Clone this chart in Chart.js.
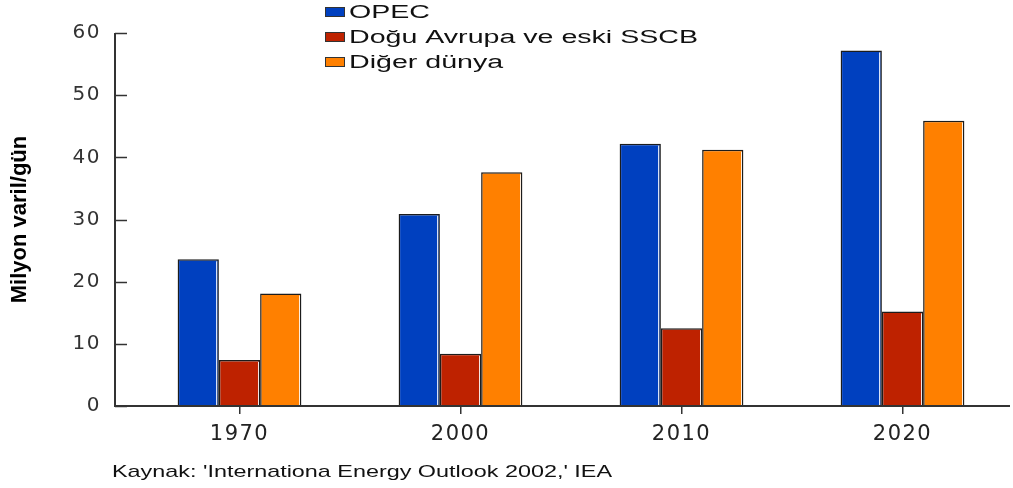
<!DOCTYPE html>
<html>
<head>
<meta charset="utf-8">
<script src="https://cdn.jsdelivr.net/npm/chart.js@4/dist/chart.umd.min.js"></script>
<style>
    html, body { margin: 0; padding: 0; background: #ffffff; }
    #box { width: 1013px; height: 488px; position: relative; }
</style>
</head>
<body>
<div id="box"><canvas id="oilChart"></canvas></div>
<script>
const years = ['1970', '2000', '2010', '2020'];
const opec = [23.6, 30.9, 42.2, 57.2];
const doguAvrupa = [7.4, 8.4, 12.5, 15.2];
const digerDunya = [18.1, 37.6, 41.2, 45.9];
const seriesNames = ['OPEC', 'Doğu Avrupa ve eski SSCB', 'Diğer dünya'];
const sourceText = "Kaynak: 'Internationa Energy Outlook 2002,' IEA";

const barColors = ['#0040bf', '#be2200', '#ff8000'];

// axis lines sit a bit left of the first category
const axisX = 115;

// stretched text, the original picture is wide
function stretchText(ctx, text, x, y, sx) {
    ctx.save();
    ctx.translate(x, y);
    ctx.scale(sx, 1);
    ctx.fillText(text, 0, 0);
    ctx.restore();
}

const extras = {
    id: 'extras',
    beforeDraw(chart) {
        chart.ctx.letterSpacing = '0px';
    },
    afterDatasetsDraw(chart) {
        const ctx = chart.ctx;
        const area = chart.chartArea;
        const yScale = chart.scales.y;
        ctx.save();
        // light edge on the right side of every bar
        ctx.strokeStyle = 'rgba(255,255,255,0.85)';
        ctx.lineWidth = 1;
        chart.getSortedVisibleDatasetMetas().forEach(meta => {
            meta.data.forEach(bar => {
                const p = bar.getProps(['x', 'y', 'base', 'width'], true);
                const xr = Math.round(p.x + p.width / 2 - 2.5) + 0.5;
                ctx.beginPath();
                ctx.moveTo(xr, p.y + 2);
                ctx.lineTo(xr, p.base - 1);
                ctx.stroke();
            });
        });
        // axis lines
        const y0 = yScale.getPixelForValue(0);
        ctx.strokeStyle = '#333333';
        ctx.lineWidth = 2;
        ctx.beginPath();
        ctx.moveTo(axisX, area.top);
        ctx.lineTo(axisX, y0);
        ctx.lineTo(1010, y0);
        ctx.stroke();
        // y ticks pointing into the plot
        ctx.lineWidth = 1.5;
        yScale.ticks.forEach(t => {
            const py = Math.round(yScale.getPixelForValue(t.value)) + 0.5;
            ctx.beginPath();
            ctx.moveTo(axisX, py);
            ctx.lineTo(axisX + 12, py);
            ctx.stroke();
        });
        ctx.restore();
        // tick labels come after this, spaced out
        ctx.letterSpacing = '1.5px';
    },
    afterDraw(chart) {
        const ctx = chart.ctx;
        ctx.save();
        ctx.letterSpacing = '0px';
        // legend
        ctx.font = '18px "Liberation Sans", Arial, sans-serif';
        ctx.textBaseline = 'middle';
        ctx.textAlign = 'left';
        const sx = 349 / ctx.measureText(seriesNames[1]).width;
        chart.data.datasets.forEach((ds, i) => {
            const cy = 12 + i * 25;
            ctx.fillStyle = ds.backgroundColor;
            ctx.fillRect(325, cy - 5, 20, 10);
            ctx.strokeStyle = '#333333';
            ctx.lineWidth = 1;
            ctx.strokeRect(325.5, cy - 4.5, 19, 9);
            ctx.fillStyle = '#111111';
            stretchText(ctx, ds.label, 349, cy + 1, sx);
        });
        // source line
        ctx.font = '17px "Liberation Sans", Arial, sans-serif';
        ctx.textBaseline = 'alphabetic';
        ctx.fillStyle = '#111111';
        const fx = 500 / ctx.measureText(sourceText).width;
        stretchText(ctx, sourceText, 112, 477, fx);
        ctx.restore();
    }
};

const data = {
    labels: years,
    datasets: [{
        label: seriesNames[0],
        data: opec,
        backgroundColor: barColors[0]
    }, {
        label: seriesNames[1],
        data: doguAvrupa,
        backgroundColor: barColors[1]
    }, {
        label: seriesNames[2],
        data: digerDunya,
        backgroundColor: barColors[2]
    }]
};

const config = {
    type: 'bar',
    data: data,
    options: {
        responsive: true,
        maintainAspectRatio: false,
        animation: false,
        datasets: {
            bar: {
                categoryPercentage: 0.56,
                barPercentage: 1.0,
                borderColor: '#1c1c1c',
                borderWidth: 1.5
            }
        },
        layout: {
            padding: { top: 33, right: 0, bottom: 0, left: 0 }
        },
        plugins: {
            legend: { display: false },
            title: { display: false },
            tooltip: { enabled: false }
        },
        scales: {
            x: {
                grid: {
                    offset: false,
                    drawOnChartArea: false,
                    drawTicks: true,
                    tickLength: 8,
                    color: '#333333',
                    lineWidth: 1.5
                },
                border: { display: false },
                ticks: {
                    z: 1,
                    maxRotation: 0,
                    padding: 8,
                    color: '#222222',
                    font: { family: '"DejaVu Sans", sans-serif', size: 21 }
                },
                afterFit(scale) { scale.height = 82; }
            },
            y: {
                min: 0,
                max: 60,
                grid: { display: false, drawTicks: false },
                border: { display: false },
                ticks: {
                    z: 1,
                    stepSize: 10,
                    padding: 28,
                    color: '#333333',
                    font: { family: '"DejaVu Sans", sans-serif', size: 20 }
                },
                title: {
                    display: true,
                    text: 'Milyon varil/gün',
                    color: '#000000',
                    padding: { top: 7, bottom: 0 },
                    font: {
                        family: '"Liberation Sans", Arial, sans-serif',
                        size: 22,
                        weight: 'bold'
                    }
                },
                afterFit(scale) {
                    scale.width = 129;
                    // the big label padding should not push the plot down
                    scale.paddingTop = 12;
                    scale.paddingBottom = 12;
                }
            }
        }
    },
    plugins: [extras]
};

var oilChart = new Chart(
    document.getElementById('oilChart'),
    config
);
</script>
</body>
</html>
